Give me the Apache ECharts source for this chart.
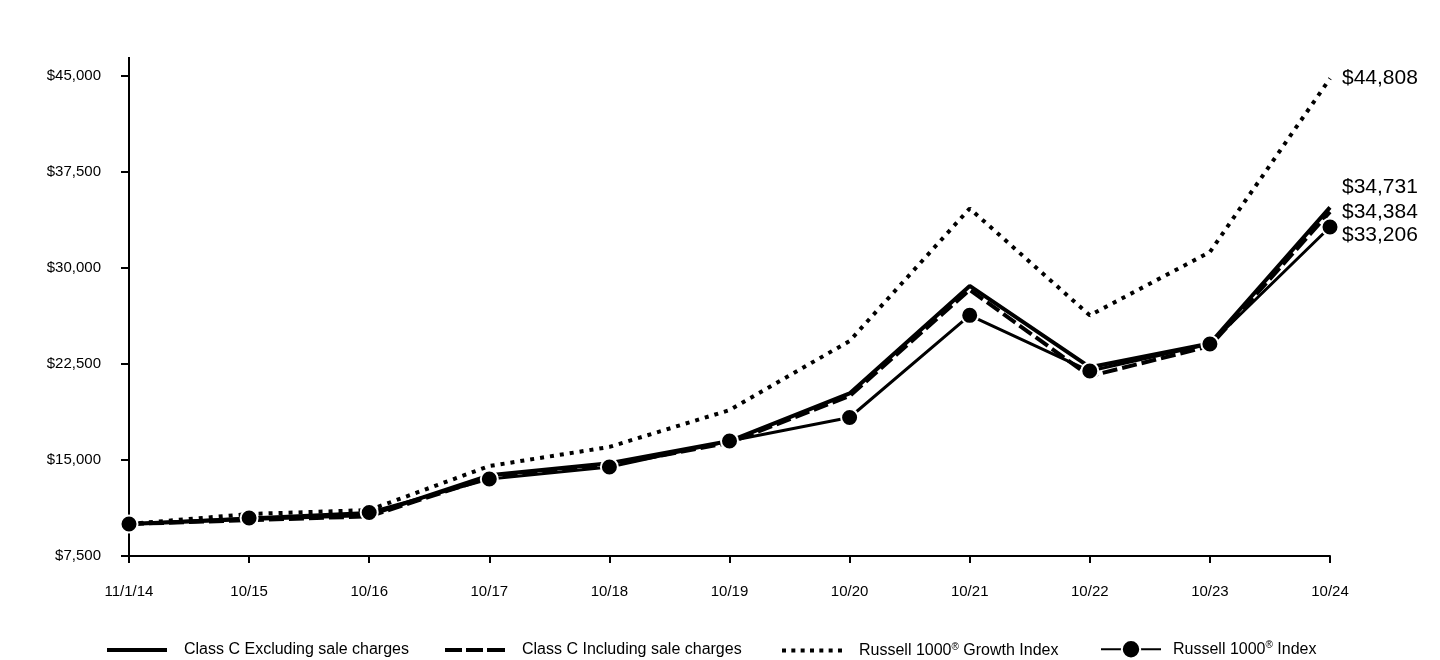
<!DOCTYPE html>
<html>
<head>
<meta charset="utf-8">
<script src="https://cdn.jsdelivr.net/npm/echarts@6/dist/echarts.min.js"></script>
<style>
  html, body { margin: 0; padding: 0; background: #fff; }
  #chart { width: 1440px; height: 660px; }
</style>
</head>
<body>
<div id="chart"></div>
<script>
// data
const categories = ["11/1/14", "10/15", "10/16", "10/17", "10/18", "10/19", "10/20", "10/21", "10/22", "10/23", "10/24"];
const classCExcl = [10000, 10400, 10700, 13800, 14750, 16480, 20200, 28600, 22250, 24100, 34731];
const classCIncl = [10000, 10300, 10600, 13650, 14600, 16350, 20000, 28300, 21550, 23900, 34384];
const growthIdx = [10000, 10780, 11090, 14530, 16020, 18900, 24300, 34650, 26300, 31250, 44808];
const russellIdx = [10000, 10470, 10900, 13520, 14450, 16480, 18320, 26300, 21950, 24060, 33206];

const FONT = "Liberation Sans, Arial, sans-serif";
const names = [
  "Class C Excluding sale charges",
  "Class C Including sale charges",
  "Russell 1000® Growth Index",
  "Russell 1000® Index",
];

function money(v) {
  return "$" + Math.round(v).toLocaleString("en-US");
}

function endLabel(dy) {
  return {
    show: true,
    formatter: (p) => money(p.value),
    color: "#000",
    fontSize: 21,
    fontFamily: FONT,
    distance: 12,
    offset: [0, dy],
  };
}

// legend icons drawn as paths (solid / dashed / dotted), last one uses the series symbol
let dotted = "path://";
for (let i = 0; i < 7; i++) {
  const x = i * 9.33;
  dotted += "M" + x + ",0h4v4h-4z ";
}
const legendIcons = [
  "path://M0,0h60v4h-60z",
  "path://M0,0h17v4h-17z M21,0h17v4h-17z M42,0h18v4h-18z",
  dotted,
  undefined,
];
const legendLeft = [102, 440, 777, 1095];

// one legend per item so each can sit where the reference has it
const legends = names.map((n, i) => ({
  data: [n],
  left: legendLeft[i],
  top: legendIcons[i] ? 637 : 634,
  itemWidth: 60,
  itemHeight: legendIcons[i] ? 4 : 23,
  icon: legendIcons[i],
  formatter: (name) => name.replace("®", "{sup|®}"),
  textStyle: {
    color: "#000",
    fontSize: 16,
    fontFamily: FONT,
    padding: [0, 0, 0, legendIcons[i] ? 12 : 7],
    rich: {
      sup: { fontSize: 10, verticalAlign: "top", padding: [0, 0, 7, 0], fontFamily: FONT, color: "#000" },
    },
  },
}));

const chart = echarts.init(document.getElementById("chart"));
chart.setOption({
  animation: false,
  backgroundColor: "#fff",
  grid: { left: 129, right: 110, top: 76, bottom: 104 },
  legend: legends,
  xAxis: {
    type: "category",
    data: categories,
    boundaryGap: false,
    axisLine: { lineStyle: { color: "#000", width: 2 } },
    axisTick: { show: true, alignWithLabel: true, length: 7, lineStyle: { color: "#000", width: 2 } },
    axisLabel: { color: "#000", fontSize: 15, fontFamily: FONT, margin: 28 },
  },
  yAxis: {
    type: "value",
    min: 7500,
    max: 45000,
    interval: 7500,
    splitLine: { show: false },
    axisLine: { show: true, lineStyle: { color: "#000", width: 2 } },
    axisTick: { show: true, length: 8, lineStyle: { color: "#000", width: 2 } },
    axisLabel: { color: "#000", fontSize: 15, fontFamily: FONT, margin: 28, formatter: money },
  },
  // the reference's y axis line runs a little past the top tick
  graphic: [{
    type: "line",
    shape: { x1: 129, y1: 57, x2: 129, y2: 77 },
    style: { stroke: "#000", lineWidth: 2 },
  }],
  series: [
    {
      name: names[0],
      type: "line",
      data: classCExcl,
      symbol: "none",
      color: "#000",
      lineStyle: { color: "#000", width: 4 },
      endLabel: endLabel(-20),
      z: 2,
    },
    {
      name: names[1],
      type: "line",
      data: classCIncl,
      symbol: "none",
      color: "#000",
      lineStyle: { color: "#000", width: 4, type: [15, 5] },
      endLabel: endLabel(0),
      z: 3,
    },
    {
      name: names[2],
      type: "line",
      data: growthIdx,
      symbol: "none",
      color: "#000",
      lineStyle: { color: "#000", width: 4, type: [4, 6] },
      endLabel: endLabel(0),
      z: 4,
    },
    {
      name: names[3],
      type: "line",
      data: russellIdx,
      symbol: "circle",
      symbolSize: 17,
      color: "#000",
      itemStyle: { color: "#000", borderColor: "#fff", borderWidth: 2 },
      lineStyle: { color: "#000", width: 3 },
      endLabel: endLabel(8),
      z: 5,
    },
  ],
});
</script>
</body>
</html>
